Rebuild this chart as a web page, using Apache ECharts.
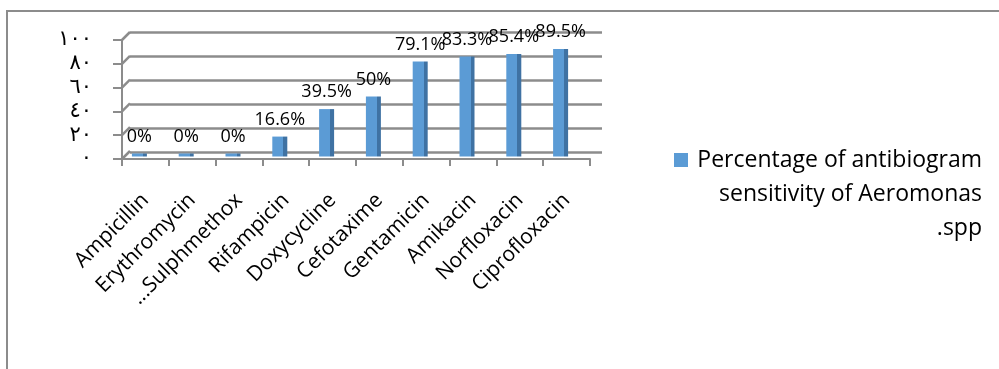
<!DOCTYPE html>
<html>
<head>
<meta charset="utf-8">
<script src="https://cdn.jsdelivr.net/npm/echarts@6/dist/echarts.min.js"></script>
<style>
  html, body { margin: 0; padding: 0; background: #fff; }
  #wrap { position: relative; width: 999px; height: 369px; overflow: hidden; }
  #frame { position: absolute; left: 6px; top: 10px; width: 1100px; height: 500px; border: 2px solid #8c8c8c; }
  #chart { position: absolute; left: 0; top: 0; width: 999px; height: 369px; }
</style>
</head>
<body>
<div id="wrap"><div id="frame"></div><div id="chart"></div></div>
<script>
const categories = ['Ampicillin', 'Erythromycin', '...Sulphmethox', 'Rifampicin', 'Doxycycline', 'Cefotaxime', 'Gentamicin', 'Amikacin', 'Norfloxacin', 'Ciprofloxacin'];
const values = [0, 0, 0, 16.6, 39.5, 50, 79.1, 83.3, 85.4, 89.5];
const valueLabels = ['0%', '0%', '0%', '16.6%', '39.5%', '50%', '79.1%', '83.3%', '85.4%', '89.5%'];
const yTickValues = [0, 20, 40, 60, 80, 100];
const yTickLabels = ['٠', '٢٠', '٤٠', '٦٠', '٨٠', '١٠٠'];
const seriesName = 'Percentage of antibiogram sensitivity of Aeromonas .spp';
const legendLines = ['Percentage of antibiogram', 'sensitivity of Aeromonas', '.spp'];

const GRAY = '#8c8c8c';
const FONT = 'Open Sans';
const chart = echarts.init(document.getElementById('chart'), null, { renderer: 'canvas' });

const option = {
  animation: false,
  backgroundColor: 'transparent',
  grid: [
    { left: 122, right: 409, top: 40, bottom: 210 },   // front axes
    { left: 130, right: 397, top: 32, bottom: 217 },   // back wall
    { left: 116, right: 415, top: 36.5, bottom: 212.5 } // bars (mid depth)
  ],
  xAxis: [
    {
      gridIndex: 0, type: 'category', data: categories,
      axisLine: { show: true, lineStyle: { color: GRAY, width: 2 } },
      axisTick: { show: true, length: 7, lineStyle: { color: GRAY, width: 2 } },
      axisLabel: { rotate: 45, fontFamily: FONT, fontSize: 21, color: '#000', margin: 38, interval: 0 }
    },
    {
      gridIndex: 1, type: 'category', data: categories,
      axisLine: { show: false }, axisTick: { show: false }, axisLabel: { show: false }
    },
    {
      gridIndex: 2, type: 'category', data: categories,
      axisLine: { show: false }, axisTick: { show: false }, axisLabel: { show: false }
    }
  ],
  yAxis: [
    {
      gridIndex: 0, type: 'value', min: 0, max: 100, interval: 20,
      axisLine: { show: true, lineStyle: { color: GRAY, width: 2 } },
      axisTick: { show: true, length: 9, lineStyle: { color: GRAY, width: 2 } },
      splitLine: { show: false },
      axisLabel: {
        margin: 30, fontFamily: 'DejaVu Sans', fontSize: 21, color: '#000',
        formatter: v => yTickLabels[yTickValues.indexOf(v)]
      }
    },
    {
      gridIndex: 1, type: 'value', min: 0, max: 100, interval: 20,
      axisLine: { show: false }, axisTick: { show: false }, axisLabel: { show: false },
      splitLine: { show: true, lineStyle: { color: GRAY, width: 2.5 } }
    },
    {
      gridIndex: 2, type: 'value', min: 0, max: 100, interval: 20,
      axisLine: { show: false }, axisTick: { show: false }, axisLabel: { show: false },
      splitLine: { show: false }
    }
  ],
  legend: {
    left: 669, top: 143, padding: 0,
    icon: 'none', itemWidth: 0, itemGap: 0,
    data: [seriesName],
    selectedMode: false,
    formatter: () => '{sq|}{g|}{a|' + legendLines[0] + '}\n{b|' + legendLines[1] + '}\n{b|' + legendLines[2] + '}',
    textStyle: {
      fontFamily: FONT, fontSize: 23, color: '#000', lineHeight: 34,
      rich: {
        sq: { width: 14, height: 14, backgroundColor: '#5b9bd5' },
        g: { width: 9 },
        a: { fontFamily: FONT, fontSize: 23, color: '#000', width: 285, align: 'right', lineHeight: 34 },
        b: { fontFamily: FONT, fontSize: 23, color: '#000', width: 308, align: 'right', lineHeight: 34 }
      }
    }
  },
  series: [
    {
      // left-side depth connectors of the back-wall gridlines
      type: 'custom', xAxisIndex: 0, yAxisIndex: 0, silent: true, z: 1,
      data: yTickValues.map(v => [0, v]),
      renderItem: (params, api) => {
        const p = api.coord([api.value(0), api.value(1)]);
        const half = api.size([1, 0])[0] / 2;
        return {
          type: 'line',
          shape: { x1: p[0] - half, y1: p[1], x2: p[0] - half + 8, y2: p[1] - 8 },
          style: { stroke: GRAY, lineWidth: 2.5 }
        };
      }
    },
    {
      name: seriesName, type: 'bar', xAxisIndex: 2, yAxisIndex: 2, z: 5,
      data: values,
      barWidth: 15, barMinHeight: 3,
      itemStyle: {
        color: {
          type: 'linear', x: 0, y: 0, x2: 1, y2: 0,
          colorStops: [
            { offset: 0, color: '#5b9bd5' }, { offset: 0.74, color: '#5b9bd5' },
            { offset: 0.74, color: '#3f72a3' }, { offset: 1, color: '#3f72a3' }
          ]
        }
      },
      label: {
        show: true, position: 'top', distance: 8,
        fontFamily: FONT, fontSize: 18, color: '#000',
        formatter: p => valueLabels[p.dataIndex]
      }
    }
  ]
};
chart.setOption(option);
</script>
</body>
</html>
